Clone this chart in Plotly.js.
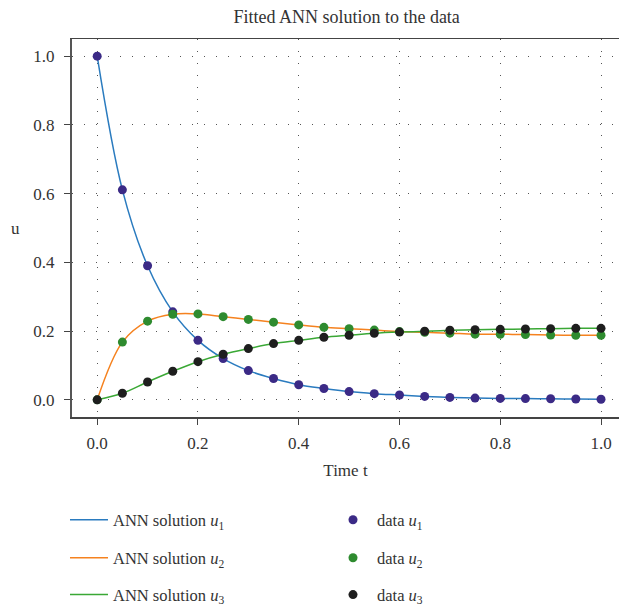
<!DOCTYPE html>
<html>
<head>
<meta charset="utf-8">
<script src="https://cdn.plot.ly/plotly-3.0.1.min.js"></script>
<style>html,body{margin:0;padding:0;background:#fff;}#chart{width:619px;height:605px;}</style>
</head>
<body>
<div id="chart"></div>
<script>
// Time grid
var timeT = [0, 0.05, 0.1, 0.15, 0.2, 0.25, 0.3, 0.35, 0.4, 0.45, 0.5, 0.55, 0.6, 0.65, 0.7, 0.75, 0.8, 0.85, 0.9, 0.95, 1.0];
// Data values
var dataU1 = [1.0, 0.611, 0.390, 0.256, 0.173, 0.120, 0.085, 0.062, 0.044, 0.033, 0.024, 0.018, 0.014, 0.010, 0.007, 0.005, 0.004, 0.0035, 0.003, 0.0023, 0.0015];
var dataU2 = [0, 0.168, 0.229, 0.249, 0.250, 0.242, 0.234, 0.226, 0.218, 0.211, 0.207, 0.203, 0.1985, 0.1965, 0.194, 0.191, 0.1907, 0.190, 0.1886, 0.188, 0.188];
var dataU3 = [0, 0.019, 0.052, 0.083, 0.111, 0.1325, 0.149, 0.1636, 0.173, 0.182, 0.188, 0.1936, 0.197, 0.1994, 0.2023, 0.204, 0.205, 0.206, 0.207, 0.208, 0.208];
// ANN solution curves
var annU1 = [1.0, 0.611, 0.390, 0.256, 0.173, 0.120, 0.085, 0.062, 0.044, 0.033, 0.024, 0.018, 0.014, 0.010, 0.007, 0.005, 0.004, 0.0035, 0.003, 0.0023, 0.0015];
var annU2 = [0, 0.168, 0.229, 0.249, 0.250, 0.242, 0.234, 0.226, 0.218, 0.211, 0.207, 0.203, 0.1985, 0.1965, 0.194, 0.191, 0.1907, 0.190, 0.1886, 0.188, 0.188];
var annU3 = [0, 0.019, 0.052, 0.083, 0.111, 0.1325, 0.149, 0.1636, 0.173, 0.182, 0.188, 0.1936, 0.197, 0.1994, 0.2023, 0.204, 0.205, 0.206, 0.207, 0.208, 0.208];
// Labels
var xTickVals = [0, 0.2, 0.4, 0.6, 0.8, 1.0];
var yTickVals = [0, 0.2, 0.4, 0.6, 0.8, 1.0];
var lineNames = ['ANN solution <i>u</i><sub>1</sub>', 'ANN solution <i>u</i><sub>2</sub>', 'ANN solution <i>u</i><sub>3</sub>'];
var dataNames = ['data <i>u</i><sub>1</sub>', 'data <i>u</i><sub>2</sub>', 'data <i>u</i><sub>3</sub>'];

var lineColors = ['#2a7bbf', '#f5821f', '#3aa835'];
var markColors = ['#3b2a86', '#2e8b2f', '#1e1e1e'];
var FONT = 'Liberation Serif, Times New Roman, serif';

var ann = [annU1, annU2, annU3];
var dat = [dataU1, dataU2, dataU3];
var legs = ['legend', 'legend2', 'legend3'];
var traces = [];
for (var i = 0; i < 3; i++) {
  traces.push({x: timeT, y: ann[i], type: 'scatter', mode: 'lines', name: lineNames[i],
    line: {color: lineColors[i], width: 1.5, shape: 'spline', smoothing: 1}, legend: legs[i]});
}
for (var i = 0; i < 3; i++) {
  traces.push({x: timeT, y: dat[i], type: 'scatter', mode: 'markers', name: dataNames[i],
    marker: {color: markColors[i], size: 9}, legend: legs[i]});
}

function leg(y) {
  return {orientation: 'h', xref: 'container', yref: 'container', x: 0.105, xanchor: 'left', y: y, yanchor: 'middle',
    itemwidth: 38, entrywidth: 211, bgcolor: 'rgba(0,0,0,0)', font: {family: FONT, size: 16.5, color: '#333'},
    traceorder: 'normal'};
}

var layout = {
  width: 619, height: 605,
  margin: {l: 72, r: 0, t: 39, b: 188},
  paper_bgcolor: '#fff', plot_bgcolor: '#fff',
  font: {family: FONT, size: 17, color: '#333'},
  title: {text: 'Fitted ANN solution to the data', x: 0.56, xref: 'container', xanchor: 'center', y: 0.972, yanchor: 'middle',
    font: {family: FONT, size: 18, color: '#333'}},
  xaxis: {range: [-0.05, 1.0357], tickvals: xTickVals, tickformat: '.1f',
    ticks: 'outside', ticklen: 6, tickcolor: '#444', ticklabelstandoff: 4,
    showline: true, mirror: true, linecolor: '#444', linewidth: 1.5,
    showgrid: true, gridcolor: '#555', gridwidth: 1, griddash: '1px,11px', zeroline: false,
    title: {text: 'Time t', standoff: 12, font: {family: FONT, size: 17, color: '#333'}}},
  yaxis: {range: [-0.05, 1.05], tickvals: yTickVals, tickformat: '.1f',
    ticks: 'outside', ticklen: 6, tickcolor: '#444', ticklabelstandoff: 6,
    showline: true, linecolor: '#555', linewidth: 2,
    showgrid: true, gridcolor: '#555', gridwidth: 1, griddash: '1px,11px', zeroline: false},
  annotations: [{text: 'u', xref: 'paper', yref: 'paper', x: -0.104, y: 0.5, xanchor: 'center', yanchor: 'middle',
    showarrow: false, font: {family: FONT, size: 17, color: '#333'}}],
  showlegend: true,
  legend: leg(0.1405),
  legend2: leg(0.0777),
  legend3: leg(0.0168)
};

Plotly.newPlot('chart', traces, layout, {displayModeBar: false, staticPlot: true});
</script>
</body>
</html>
